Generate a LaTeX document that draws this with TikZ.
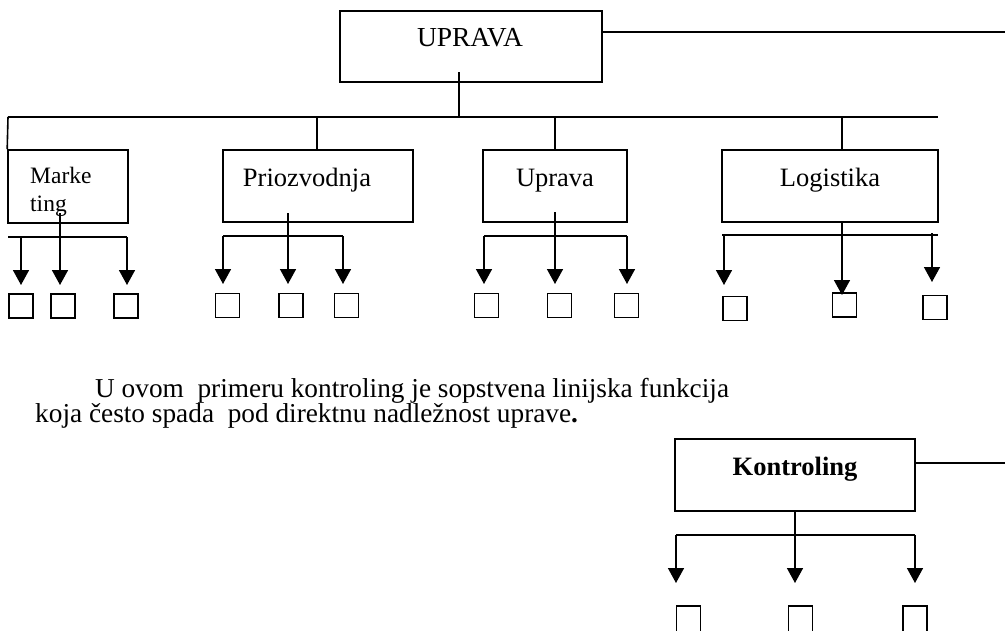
\documentclass[tikz,border=0pt]{standalone}
\usepackage{fontspec}
\setmainfont{Liberation Serif}
\usetikzlibrary{arrows.meta}
\begin{document}
\begin{tikzpicture}[x=1pt,y=-1pt,
  ln/.style={line width=1.6pt},
  box/.style={draw,line width=1.6pt,rectangle,inner sep=0pt},
  sq/.style={draw,line width=1.5pt,rectangle,inner sep=0pt,minimum width=24pt,minimum height=24pt},
  arr/.style={line width=1.6pt,-{Triangle[width=16pt,length=15pt]}},
  lbl/.style={font=\fontsize{26.5}{30}\selectfont,inner sep=0pt},
  txt/.style={font=\fontsize{27.3}{25}\selectfont,inner sep=0pt,anchor=base west}]
\useasboundingbox (0,0) rectangle (1005,630);
\clip (0,0) rectangle (1005,630);
% top
\node[box,minimum width=262pt,minimum height=71pt] (up) at (471,46.5) {};
\node[lbl,anchor=base,font=\fontsize{27.5}{30}\selectfont] (upt) at (470,46) {UPRAVA};
\coordinate (upR) at (1005,32);
\draw[ln] (up.east |- upR) -- (upR);
\coordinate (busL) at (8,117);
\coordinate (busR) at (938,117);
\draw[ln] (459,72) -- (459,117);
\draw[ln] (busL) -- (busR);
% department boxes
\node[box,minimum width=120pt,minimum height=73pt] (mk) at (68,186.5) {};
\node[font=\fontsize{23.5}{28}\selectfont,inner sep=0pt,anchor=base west,align=left] (mkt) at (30,211) {Marke\\ting};
\node[box,minimum width=190pt,minimum height=72pt] (pr) at (318,186) {};
\node[lbl,anchor=base] (prt) at (307,186) {Priozvodnja};
\node[box,minimum width=144pt,minimum height=72pt] (ur) at (555,186) {};
\node[lbl,anchor=base] (urt) at (555,186) {Uprava};
\node[box,minimum width=216pt,minimum height=72pt] (lg) at (830,186) {};
\node[lbl,anchor=base] (lgt) at (830,186) {Logistika};
\draw[ln] (busL) -- (mk.north west);
\draw[ln] (317,117) -- (317,150);
\draw[ln] (555,117) -- (555,150);
\draw[ln] (842,117) -- (842,150);
% Marketing subtree
\node[sq] (m1) at (21,306) {};
\node[sq] (m2) at (63,306) {};
\node[sq] (m3) at (126,306) {};
\draw[ln] (8,237) -- (127,237);
\draw[arr] (21,237) -- (21,285);
\draw[arr] (127,237) -- (127,285);
\draw[arr] (60,213) -- (60,285);
% Priozvodnja subtree
\node[sq] (p1) at (227.5,305.5) {};
\node[sq] (p2) at (291,305.5) {};
\node[sq] (p3) at (346.5,305.5) {};
\draw[ln] (223,236) -- (343,236);
\draw[arr] (223,236) -- (223,284);
\draw[arr] (343,236) -- (343,284);
\draw[arr] (288,213) -- (288,284);
% Uprava subtree
\node[sq] (u1) at (486.5,305.5) {};
\node[sq] (u2) at (559.5,305.5) {};
\node[sq] (u3) at (626.5,305.5) {};
\draw[ln] (484,236) -- (627,236);
\draw[arr] (484,236) -- (484,284);
\draw[arr] (627,236) -- (627,284);
\draw[arr] (555,212) -- (555,284);
% Logistika subtree
\node[sq] (l1) at (735,308.5) {};
\node[sq] (l2) at (844.5,305) {};
\node[sq] (l3) at (935,307.5) {};
\draw[ln] (722,235) -- (938,235);
\draw[arr] (724,235) -- (724,285);
\draw[arr] (932,233) -- (932,282);
\draw[arr] (lg.south -| 842,0) -- (842,295);
% paragraph
\node[txt] (p1t) at (95,397) {U ovom\ \ primeru kontroling je sopstvena linijska funkcija};
\node[txt] (p2t) at (35,422) {koja često spada\ \ pod direktnu nadležnost uprave\textbf{.}};
% Kontroling
\node[box,minimum width=240pt,minimum height=72pt] (kt) at (795,475) {};
\node[lbl,anchor=base,font=\fontsize{26.5}{30}\selectfont\bfseries] (ktt) at (795,475) {Kontroling};
\coordinate (ktR) at (1005,463);
\draw[ln] (kt.east |- ktR) -- (ktR);
\draw[ln] (kt.south) -- (795,535);
\draw[ln] (676,535) -- (915,535);
\draw[arr] (676,535) -- (676,583);
\draw[arr] (795,535) -- (795,583);
\draw[arr] (915,535) -- (915,583);
\node[sq,minimum height=30pt] (k1) at (688.5,621) {};
\node[sq,minimum height=30pt] (k2) at (800.5,621) {};
\node[sq,minimum height=30pt] (k3) at (915,621) {};
\end{tikzpicture}
\end{document}
